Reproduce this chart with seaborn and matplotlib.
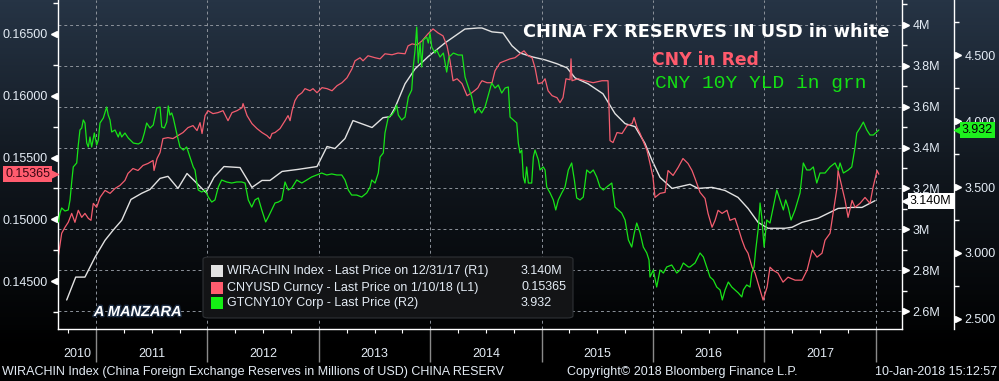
import numpy as np
import pandas as pd
import seaborn as sns
import matplotlib
matplotlib.use("Agg")
import matplotlib.pyplot as plt
import matplotlib.transforms as mtransforms
import matplotlib.patheffects as pe
from matplotlib.colors import LinearSegmentedColormap
from matplotlib.patches import FancyBboxPatch, Rectangle
from matplotlib.ticker import FixedLocator, FuncFormatter

# China FX reserves (millions of USD, shown in M = trillions), monthly, (year, value)
reserves_pts = [
    (2010.737, 2.654), (2010.818, 2.766), (2010.901, 2.766), (2010.991, 2.863),
    (2011.081, 2.946), (2011.153, 2.995), (2011.231, 3.044), (2011.314, 3.146), (2011.410, 3.176),
    (2011.485, 3.195), (2011.575, 3.249), (2011.646, 3.259), (2011.736, 3.200), (2011.817, 3.273),
    (2011.907, 3.224), (2011.987, 3.180), (2012.059, 3.254), (2012.149, 3.307), (2012.293, 3.302),
    (2012.400, 3.205), (2012.490, 3.239), (2012.562, 3.239), (2012.670, 3.283), (2012.813, 3.293),
    (2012.984, 3.307), (2013.074, 3.405), (2013.145, 3.395), (2013.235, 3.444), (2013.307, 3.532),
    (2013.478, 3.498), (2013.576, 3.546), (2013.639, 3.551), (2013.684, 3.595), (2013.774, 3.712),
    (2013.864, 3.785), (2013.980, 3.844), (2014.133, 3.912), (2014.312, 3.980), (2014.429, 3.985),
    (2014.465, 3.985), (2014.555, 3.966), (2014.653, 3.961), (2014.734, 3.898), (2014.806, 3.863),
    (2014.914, 3.844), (2015.031, 3.829), (2015.138, 3.810), (2015.228, 3.790), (2015.300, 3.741),
    (2015.417, 3.712), (2015.551, 3.663), (2015.659, 3.566), (2015.749, 3.517), (2015.839, 3.502),
    (2015.928, 3.420), (2015.991, 3.337), (2016.063, 3.254), (2016.171, 3.200), (2016.332, 3.220),
    (2016.404, 3.200), (2016.530, 3.205), (2016.646, 3.190), (2016.763, 3.156), (2016.853, 3.102),
    (2016.943, 3.034), (2017.032, 3.005), (2017.185, 3.005), (2017.248, 3.010), (2017.338, 3.034),
    (2017.481, 3.054), (2017.571, 3.078), (2017.661, 3.102), (2017.787, 3.107), (2017.876, 3.107),
    (2017.993, 3.140),
]

# CNYUSD
cny_pts = [
    (2010.662, 0.14702), (2010.692, 0.14887), (2010.722, 0.14936), (2010.751, 0.14976), (2010.782, 0.15048),
    (2010.811, 0.14976), (2010.841, 0.15073), (2010.872, 0.15016), (2010.901, 0.15048), (2010.931, 0.15008),
    (2010.955, 0.14992), (2010.976, 0.15129), (2011.006, 0.15097), (2011.036, 0.15177), (2011.081, 0.15234),
    (2011.126, 0.15210), (2011.171, 0.15250), (2011.215, 0.15274), (2011.260, 0.15315), (2011.287, 0.15371),
    (2011.332, 0.15411), (2011.377, 0.15395), (2011.422, 0.15436), (2011.467, 0.15452), (2011.512, 0.15476),
    (2011.521, 0.15395), (2011.548, 0.15492), (2011.575, 0.15540), (2011.601, 0.15653), (2011.646, 0.15661),
    (2011.691, 0.15653), (2011.736, 0.15677), (2011.781, 0.15702), (2011.826, 0.15742), (2011.871, 0.15758),
    (2011.907, 0.15718), (2011.934, 0.15782), (2011.952, 0.15694), (2011.979, 0.15839), (2012.005, 0.15879),
    (2012.050, 0.15855), (2012.095, 0.15863), (2012.140, 0.15879), (2012.185, 0.15798), (2012.221, 0.15863),
    (2012.266, 0.15879), (2012.311, 0.15903), (2012.320, 0.15936), (2012.356, 0.15839), (2012.400, 0.15774),
    (2012.445, 0.15734), (2012.490, 0.15702), (2012.535, 0.15677), (2012.562, 0.15653), (2012.580, 0.15694),
    (2012.607, 0.15702), (2012.652, 0.15734), (2012.697, 0.15798), (2012.724, 0.15839), (2012.742, 0.15798),
    (2012.760, 0.15879), (2012.786, 0.15960), (2012.813, 0.16000), (2012.849, 0.16024), (2012.876, 0.16057),
    (2012.921, 0.16040), (2012.948, 0.16057), (2012.984, 0.16024), (2013.029, 0.16065), (2013.074, 0.16057),
    (2013.119, 0.16040), (2013.164, 0.16081), (2013.208, 0.16105), (2013.253, 0.16145), (2013.298, 0.16218),
    (2013.325, 0.16282), (2013.370, 0.16307), (2013.397, 0.16282), (2013.442, 0.16323), (2013.505, 0.16307),
    (2013.550, 0.16298), (2013.594, 0.16339), (2013.657, 0.16331), (2013.711, 0.16345), (2013.774, 0.16339),
    (2013.801, 0.16403), (2013.837, 0.16419), (2013.882, 0.16411), (2013.927, 0.16444), (2013.980, 0.16500),
    (2014.025, 0.16540), (2014.070, 0.16508), (2014.115, 0.16484), (2014.151, 0.16403), (2014.178, 0.16282),
    (2014.205, 0.16121), (2014.241, 0.16137), (2014.286, 0.16097), (2014.331, 0.16000), (2014.375, 0.16024),
    (2014.420, 0.16057), (2014.429, 0.16065), (2014.447, 0.16097), (2014.465, 0.16121), (2014.510, 0.16105),
    (2014.555, 0.16105), (2014.582, 0.16202), (2014.627, 0.16266), (2014.672, 0.16282), (2014.717, 0.16298),
    (2014.761, 0.16307), (2014.806, 0.16339), (2014.842, 0.16363), (2014.878, 0.16323), (2014.914, 0.16307),
    (2014.941, 0.16226), (2014.968, 0.16097), (2015.004, 0.16105), (2015.031, 0.16137), (2015.058, 0.16040),
    (2015.094, 0.16000), (2015.138, 0.15984), (2015.165, 0.15944), (2015.192, 0.15984), (2015.219, 0.16137),
    (2015.255, 0.16129), (2015.264, 0.16298), (2015.273, 0.16121), (2015.327, 0.16137), (2015.390, 0.16121),
    (2015.462, 0.16105), (2015.542, 0.16121), (2015.596, 0.16121), (2015.605, 0.15903), (2015.614, 0.15637),
    (2015.641, 0.15621), (2015.677, 0.15702), (2015.722, 0.15694), (2015.767, 0.15758), (2015.812, 0.15774),
    (2015.830, 0.15823), (2015.857, 0.15742), (2015.884, 0.15694), (2015.910, 0.15637), (2015.946, 0.15557),
    (2015.973, 0.15452), (2016.000, 0.15339), (2016.018, 0.15177), (2016.063, 0.15210), (2016.108, 0.15218),
    (2016.135, 0.15395), (2016.180, 0.15355), (2016.225, 0.15419), (2016.269, 0.15492), (2016.314, 0.15452),
    (2016.350, 0.15395), (2016.377, 0.15331), (2016.422, 0.15218), (2016.467, 0.15169), (2016.494, 0.15048),
    (2016.530, 0.14936), (2016.557, 0.14992), (2016.584, 0.15073), (2016.620, 0.15048), (2016.664, 0.15073),
    (2016.691, 0.14992), (2016.736, 0.15008), (2016.763, 0.14936), (2016.799, 0.14831), (2016.826, 0.14766),
    (2016.853, 0.14726), (2016.889, 0.14613), (2016.916, 0.14565), (2016.943, 0.14484), (2016.970, 0.14403),
    (2016.988, 0.14347), (2017.024, 0.14452), (2017.050, 0.14613), (2017.077, 0.14589), (2017.122, 0.14565),
    (2017.167, 0.14492), (2017.212, 0.14532), (2017.275, 0.14508), (2017.338, 0.14508), (2017.383, 0.14589),
    (2017.428, 0.14750), (2017.472, 0.14694), (2017.517, 0.14726), (2017.544, 0.14831), (2017.589, 0.14887),
    (2017.616, 0.15048), (2017.652, 0.15258), (2017.661, 0.15395), (2017.697, 0.15258), (2017.724, 0.15153),
    (2017.751, 0.15016), (2017.787, 0.15153), (2017.814, 0.15097), (2017.858, 0.15129), (2017.903, 0.15177),
    (2017.948, 0.15129), (2017.975, 0.15258), (2018.011, 0.15395), (2018.027, 0.15365),
]

# China 10Y govt yield
yld_pts = [
    (2010.662, 3.235), (2010.677, 3.303), (2010.692, 3.341), (2010.722, 3.318), (2010.751, 3.326),
    (2010.767, 3.402), (2010.782, 3.538), (2010.796, 3.652), (2010.827, 3.682), (2010.841, 3.818),
    (2010.856, 3.932), (2010.872, 3.947), (2010.886, 4.008), (2010.901, 3.985), (2010.917, 3.833),
    (2010.931, 3.803), (2010.946, 3.879), (2010.961, 3.803), (2010.985, 3.909), (2011.006, 3.818),
    (2011.021, 3.856), (2011.036, 3.985), (2011.066, 4.023), (2011.096, 4.106), (2011.110, 4.045),
    (2011.126, 4.008), (2011.141, 3.917), (2011.171, 3.932), (2011.200, 3.879), (2011.215, 3.917),
    (2011.231, 3.879), (2011.260, 3.909), (2011.290, 3.871), (2011.335, 3.833), (2011.380, 3.826),
    (2011.410, 3.841), (2011.434, 3.909), (2011.455, 3.985), (2011.485, 3.947), (2011.514, 3.970),
    (2011.545, 4.099), (2011.575, 4.106), (2011.590, 3.955), (2011.613, 3.947), (2011.635, 3.992),
    (2011.649, 4.114), (2011.664, 4.045), (2011.680, 4.061), (2011.694, 4.023), (2011.724, 3.909),
    (2011.754, 3.803), (2011.784, 3.780), (2011.814, 3.803), (2011.844, 3.727), (2011.873, 3.652),
    (2011.889, 3.629), (2011.904, 3.538), (2011.918, 3.477), (2011.949, 3.462), (2011.979, 3.477),
    (2012.008, 3.424), (2012.039, 3.386), (2012.068, 3.402), (2012.098, 3.500), (2012.128, 3.553),
    (2012.173, 3.538), (2012.218, 3.530), (2012.263, 3.538), (2012.308, 3.538), (2012.338, 3.530),
    (2012.367, 3.402), (2012.398, 3.348), (2012.427, 3.402), (2012.457, 3.417), (2012.488, 3.326),
    (2012.523, 3.235), (2012.547, 3.273), (2012.577, 3.326), (2012.607, 3.379), (2012.637, 3.386),
    (2012.667, 3.402), (2012.697, 3.538), (2012.726, 3.477), (2012.757, 3.492), (2012.802, 3.553),
    (2012.847, 3.530), (2012.892, 3.553), (2012.936, 3.576), (2012.981, 3.591), (2013.026, 3.606),
    (2013.071, 3.591), (2013.116, 3.599), (2013.161, 3.591), (2013.206, 3.591), (2013.235, 3.553),
    (2013.265, 3.477), (2013.295, 3.439), (2013.340, 3.439), (2013.385, 3.424), (2013.430, 3.455),
    (2013.460, 3.500), (2013.475, 3.553), (2013.505, 3.530), (2013.534, 3.606), (2013.550, 3.727),
    (2013.579, 3.758), (2013.594, 3.909), (2013.624, 4.030), (2013.655, 4.045), (2013.684, 4.083),
    (2013.699, 4.121), (2013.714, 4.045), (2013.744, 4.008), (2013.774, 4.030), (2013.789, 4.106),
    (2013.804, 4.182), (2013.834, 4.235), (2013.848, 4.409), (2013.864, 4.538), (2013.879, 4.712),
    (2013.893, 4.439), (2013.909, 4.591), (2013.924, 4.409), (2013.938, 4.614), (2013.969, 4.636),
    (2013.983, 4.591), (2013.998, 4.667), (2014.014, 4.561), (2014.043, 4.515), (2014.058, 4.538),
    (2014.088, 4.485), (2014.118, 4.515), (2014.148, 4.371), (2014.169, 4.485), (2014.208, 4.515),
    (2014.252, 4.500), (2014.288, 4.500), (2014.313, 4.333), (2014.342, 4.258), (2014.373, 4.182),
    (2014.402, 4.061), (2014.432, 4.099), (2014.462, 4.061), (2014.492, 4.106), (2014.522, 4.197),
    (2014.552, 4.288), (2014.582, 4.250), (2014.611, 4.273), (2014.642, 4.212), (2014.672, 4.250),
    (2014.701, 4.258), (2014.717, 4.030), (2014.746, 4.008), (2014.777, 3.985), (2014.791, 3.833),
    (2014.806, 3.758), (2014.822, 3.780), (2014.836, 3.576), (2014.851, 3.530), (2014.866, 3.652),
    (2014.881, 3.530), (2014.911, 3.530), (2014.926, 3.727), (2014.941, 3.780), (2014.971, 3.705),
    (2014.986, 3.629), (2015.015, 3.652), (2015.031, 3.629), (2015.046, 3.500), (2015.076, 3.455),
    (2015.105, 3.402), (2015.127, 3.326), (2015.150, 3.402), (2015.181, 3.455), (2015.210, 3.500),
    (2015.240, 3.629), (2015.270, 3.682), (2015.294, 3.553), (2015.315, 3.417), (2015.345, 3.402),
    (2015.374, 3.424), (2015.405, 3.629), (2015.435, 3.606), (2015.464, 3.629), (2015.495, 3.576),
    (2015.524, 3.500), (2015.554, 3.477), (2015.585, 3.500), (2015.630, 3.530), (2015.659, 3.348),
    (2015.689, 3.326), (2015.719, 3.303), (2015.749, 3.250), (2015.779, 3.099), (2015.809, 3.045),
    (2015.832, 3.152), (2015.854, 3.227), (2015.884, 3.152), (2015.913, 3.045), (2015.944, 3.000),
    (2015.964, 2.947), (2015.973, 2.818), (2016.003, 2.871), (2016.033, 2.742), (2016.063, 2.871),
    (2016.093, 2.848), (2016.123, 2.894), (2016.168, 2.909), (2016.213, 2.848), (2016.243, 2.871),
    (2016.272, 2.924), (2016.317, 2.894), (2016.332, 2.894), (2016.377, 2.924), (2016.422, 3.000),
    (2016.452, 2.970), (2016.482, 2.894), (2016.512, 2.818), (2016.542, 2.795), (2016.572, 2.742),
    (2016.602, 2.720), (2016.622, 2.644), (2016.647, 2.720), (2016.676, 2.780), (2016.707, 2.742),
    (2016.736, 2.720), (2016.766, 2.697), (2016.797, 2.667), (2016.811, 2.720), (2016.841, 2.758),
    (2016.871, 2.742), (2016.886, 2.848), (2016.907, 2.894), (2016.922, 3.023), (2016.946, 3.197),
    (2016.961, 3.379), (2016.976, 3.273), (2016.997, 3.045), (2017.021, 3.250), (2017.050, 3.227),
    (2017.080, 3.348), (2017.111, 3.477), (2017.140, 3.402), (2017.170, 3.326), (2017.191, 3.402),
    (2017.215, 3.341), (2017.239, 3.250), (2017.275, 3.326), (2017.320, 3.455), (2017.349, 3.682),
    (2017.380, 3.629), (2017.410, 3.629), (2017.439, 3.652), (2017.470, 3.530), (2017.499, 3.606),
    (2017.544, 3.606), (2017.589, 3.652), (2017.634, 3.682), (2017.664, 3.629), (2017.679, 3.682),
    (2017.709, 3.606), (2017.753, 3.629), (2017.784, 3.652), (2017.814, 3.803), (2017.829, 3.909),
    (2017.858, 3.947), (2017.888, 3.992), (2017.919, 3.932), (2017.948, 3.894), (2017.978, 3.894),
    (2018.008, 3.917), (2018.027, 3.932),
]

year_starts = [2011, 2012, 2013, 2014, 2015, 2016, 2017, 2018]
year_labels = ["2010", "2011", "2012", "2013", "2014", "2015", "2016", "2017"]
year_label_pos = [2010.83, 2011.5, 2012.5, 2013.5, 2014.5, 2015.5, 2016.5, 2017.5]
quarter_ticks = [y + q for y in range(2010, 2019) for q in (0.25, 0.5, 0.75)]

cny_ticks = [0.145, 0.150, 0.155, 0.160, 0.165]
cny_minor = [0.1425, 0.1475, 0.1525, 0.1575, 0.1625, 0.1675]
res_ticks = [2.6, 2.8, 3.0, 3.2, 3.4, 3.6, 3.8, 4.0]
res_minor = [2.7, 2.9, 3.1, 3.3, 3.5, 3.7, 3.9, 4.1]
yld_ticks = [2.5, 3.0, 3.5, 4.0, 4.5]
yld_minor = [2.75, 3.25, 3.75, 4.25, 4.75]

legend_names = ["WIRACHIN Index - Last Price on 12/31/17 (R1)",
                "CNYUSD Curncy - Last Price on 1/10/18 (L1)",
                "GTCNY10Y Corp - Last Price (R2)"]

RED = "#f45d6f"
GREEN = "#18e418"
WHITE = "#e2e2e2"
LABEL = "#e4ecf5"
GRID = "#8d939b"

res = pd.DataFrame(reserves_pts, columns=["year", "value"])
cny = pd.DataFrame(cny_pts, columns=["year", "value"])
yld = pd.DataFrame(yld_pts, columns=["year", "value"])

sns.set_style("dark")
plt.rcParams["font.family"] = ["Liberation Sans", "DejaVu Sans"]

fig = plt.figure(figsize=(9.99, 3.81), dpi=100)
fig.patch.set_facecolor("black")

# background gradient (slate at top, black at the bottom)
bg = fig.add_axes([0, 0, 1, 1], zorder=-10)
rows = np.linspace(0, 1, 381)
grad = np.clip(1 - rows * 381 / 350, 0, 1)[:, None]
cmap = LinearSegmentedColormap.from_list("bg", ["#000000", "#10161d", "#263445"])
bg.imshow(grad, aspect="auto", cmap=cmap, extent=[0, 1, 0, 1], vmin=0, vmax=1)
bg.set_axis_off()

ax = fig.add_axes([58 / 999, 52 / 381, 844 / 999, 329 / 381])
ax2 = ax.twinx()
ax3 = ax.twinx()
for a in (ax, ax2, ax3):
    a.patch.set_visible(False)
    for s in a.spines.values():
        s.set_visible(False)
ax2.set_zorder(1)
ax.set_zorder(2)
ax3.set_zorder(3)

sns.lineplot(data=res, x="year", y="value", ax=ax2, color=WHITE, linewidth=1.0)
sns.lineplot(data=cny, x="year", y="value", ax=ax, color=RED, linewidth=0.9)
sns.lineplot(data=yld, x="year", y="value", ax=ax3, color=GREEN, linewidth=0.9)

ax.set_xlim(2010.659, 2018.235)
ax.set_ylim(0.14113, 0.16774)
ax2.set_ylim(2.512, 4.122)
ax3.set_ylim(2.424, 4.917)
for a in (ax, ax2, ax3):
    a.set_xlabel("")
    a.set_ylabel("")

# grid
ax.set_xticks(year_starts)
ax.xaxis.grid(True, color=GRID, linestyle=(0, (3, 3)), linewidth=0.7)
ax.yaxis.grid(False)
ax2.set_yticks(res_ticks)
ax2.yaxis.grid(True, color=GRID, linestyle=(0, (3, 3)), linewidth=0.7)
ax3.yaxis.grid(False)

# spines
ax.spines["left"].set_visible(True)
ax.spines["bottom"].set_visible(True)
ax2.spines["right"].set_visible(True)
ax3.spines["right"].set_visible(True)
r2_pos = 896 / 844
ax3.spines["right"].set_position(("axes", r2_pos))
for s in (ax.spines["left"], ax.spines["bottom"], ax2.spines["right"], ax3.spines["right"]):
    s.set_color("white")
    s.set_linewidth(1)

# x ticks
ax.tick_params(axis="x", which="major", length=24, width=1, color="#8a8a8a", direction="out",
               labelbottom=False, bottom=True)
ax.xaxis.set_minor_locator(FixedLocator(quarter_ticks))
ax.tick_params(axis="x", which="minor", length=3, width=0.8, color="white", direction="out", bottom=True)
for pos, lab in zip(year_label_pos, year_labels):
    ax.text(pos, -0.076, lab, transform=ax.get_xaxis_transform(), ha="center", va="center",
            color=LABEL, fontsize=9)

# y ticks
ax.set_yticks(cny_ticks)
ax.yaxis.set_major_formatter(FuncFormatter(lambda v, p: f"{v:.5f}"))
ax.yaxis.set_minor_locator(FixedLocator(cny_minor))
ax2.yaxis.set_major_formatter(FuncFormatter(lambda v, p: f"{v:g}M"))
ax2.yaxis.set_minor_locator(FixedLocator(res_minor))
ax3.set_yticks(yld_ticks)
ax3.yaxis.set_major_formatter(FuncFormatter(lambda v, p: f"{v:.3f}"))
ax3.yaxis.set_minor_locator(FixedLocator(yld_minor))
for a in (ax, ax2, ax3):
    a.tick_params(axis="y", which="major", length=0, pad=7.5, labelcolor=LABEL, labelsize=9)
    a.tick_params(axis="y", which="minor", length=3.5, width=1, color="white", direction="out")
ax.tick_params(axis="y", left=True, which="both")
ax2.tick_params(axis="y", right=True, which="both")
ax3.tick_params(axis="y", right=True, which="both")

# arrow heads at major ticks
tl = mtransforms.offset_copy(ax.get_yaxis_transform(), fig=fig, x=-4, y=0, units="dots")
ax.plot([0] * len(cny_ticks), cny_ticks, transform=tl, marker="<", ms=5, color="white",
        ls="none", clip_on=False)
tr = mtransforms.offset_copy(ax2.get_yaxis_transform(), fig=fig, x=4, y=0, units="dots")
ax2.plot([1] * len(res_ticks), res_ticks, transform=tr, marker=">", ms=5, color="white",
         ls="none", clip_on=False)
tr3 = mtransforms.offset_copy(ax3.get_yaxis_transform(), fig=fig, x=4, y=0, units="dots")
ax3.plot([r2_pos] * len(yld_ticks), yld_ticks, transform=tr3, marker=">", ms=5, color="white",
         ls="none", clip_on=False)

# last-value tags
cny_last = cny["value"].iloc[-1]
res_last = res["value"].iloc[-1]
yld_last = yld["value"].iloc[-1]
ax.annotate(f"{cny_last:.5f}", xy=(0, cny_last), xycoords=ax.get_yaxis_transform(),
            xytext=(-8, 0), textcoords="offset pixels", ha="right", va="center", fontsize=9,
            color="#3a0612", annotation_clip=False, zorder=10,
            bbox=dict(boxstyle="square,pad=0.15", fc="#ff5c6e", ec="none"))
ax.plot([0], [cny_last], transform=tl, marker=">", ms=6, color="#ff5c6e", ls="none", clip_on=False, zorder=10)
ax2.annotate(f"{res_last:.3f}M", xy=(1, res_last), xycoords=ax2.get_yaxis_transform(),
             xytext=(8, 0), textcoords="offset pixels", ha="left", va="center", fontsize=9,
             color="black", annotation_clip=False, zorder=10,
             bbox=dict(boxstyle="square,pad=0.15", fc="white", ec="none"))
ax2.plot([1], [res_last], transform=tr, marker="<", ms=6, color="white", ls="none", clip_on=False, zorder=10)
ax3.annotate(f"{yld_last:.3f}", xy=(r2_pos, yld_last), xycoords=ax3.get_yaxis_transform(),
             xytext=(8, 0), textcoords="offset pixels", ha="left", va="center", fontsize=9,
             color="black", annotation_clip=False, zorder=10,
             bbox=dict(boxstyle="square,pad=0.15", fc="#1ef01e", ec="none"))
ax3.plot([r2_pos], [yld_last], transform=tr3, marker="<", ms=6, color="#1ef01e", ls="none",
         clip_on=False, zorder=10)

# legend box
box = FancyBboxPatch((203 / 999, 63 / 381), 370 / 999, 61 / 381,
                     boxstyle="round,pad=0,rounding_size=0.006", transform=fig.transFigure,
                     fc="#131416", ec="#2e3135", lw=0.8, zorder=5)
fig.add_artist(box)
legend_vals = [f"{res_last:.3f}M", f"{cny_last:.5f}", f"{yld_last:.3f}"]
legend_cols = [WHITE, "#ff5c6e", "#14f014"]
row_y = [110 / 381, 93.5 / 381, 78 / 381]
for name, val, col, yy in zip(legend_names, legend_vals, legend_cols, row_y):
    fig.add_artist(Rectangle((211 / 999, yy - 6 / 381), 12 / 999, 12 / 381, transform=fig.transFigure,
                             fc=col, ec="none", zorder=6))
    fig.text(227 / 999, yy, name, color=LABEL, fontsize=9, va="center", ha="left", zorder=6)
    fig.text(521 / 999, yy, val, color=LABEL, fontsize=9, va="center", ha="left", zorder=6)

# annotations
fig.text(706 / 999, 349 / 381, "CHINA FX RESERVES IN USD in white", color="white", fontsize=12.8,
         fontweight="bold", family="DejaVu Sans", ha="center", va="center")
fig.text(652 / 999, 321 / 381, "CNY in Red", color="#ff5a6c", fontsize=12.3,
         fontweight="bold", family="DejaVu Sans", ha="left", va="center")
fig.text(655 / 999, 298 / 381, "CNY 10Y YLD in grn", color="#14e014", fontsize=14,
         family="Liberation Mono", ha="left", va="center")
fig.text(138 / 999, 69 / 381, "A MANZARA", color="white", fontsize=10.5, fontweight="bold",
         style="italic", ha="center", va="center",
         path_effects=[pe.withStroke(linewidth=2, foreground="#1a2a40")])

fig.text(2 / 999, 9 / 381, "WIRACHIN Index (China Foreign Exchange Reserves in Millions of USD) CHINA RESERV",
         color=LABEL, fontsize=9, ha="left", va="center")
fig.text(567 / 999, 9 / 381, "Copyright\u00a9 2018 Bloomberg Finance L.P.", color=LABEL, fontsize=9,
         ha="left", va="center")
fig.text(997 / 999, 9 / 381, "10-Jan-2018 15:12:57", color=LABEL, fontsize=9, ha="right", va="center")

fig.savefig("out.png", dpi=100, facecolor=fig.get_facecolor())
